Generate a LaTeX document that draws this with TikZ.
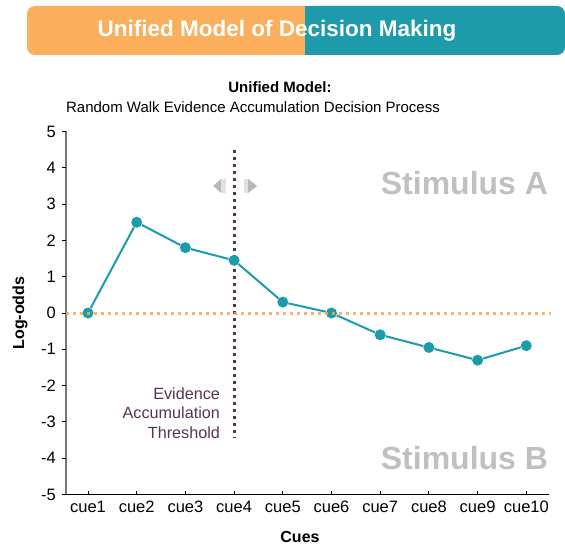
\documentclass[tikz,border=0pt]{standalone}
\usepackage{fontspec}
\setmainfont{Liberation Sans}
\usepackage{tikz}
\usetikzlibrary{positioning}

\definecolor{bannerorange}{HTML}{FBAE5B}
\definecolor{bannerteal}{HTML}{1E9BAA}
\definecolor{walkteal}{HTML}{1C9CA8}
\definecolor{zeroorange}{HTML}{F7A64E}
\definecolor{threshpurple}{HTML}{5A3352}
\definecolor{stimgray}{HTML}{C0C0C0}
\definecolor{axisgray}{HTML}{777777}
\definecolor{arrowgray}{HTML}{B8B8B8}
\definecolor{arrowlight}{HTML}{E2E2E2}

\tikzset{
  dot/.style={circle,fill=walkteal,inner sep=0pt,minimum size=11pt},
  walk/.style={walkteal,line width=2pt},
  zeroline/.style={zeroorange,line width=3pt,dash pattern=on 3pt off 4pt},
  thresh/.style={threshpurple,line width=3pt,dash pattern=on 3pt off 4pt},
  ticktext/.style={font=\fontsize{16.5}{19}\selectfont,inner sep=0pt},
  threshtext/.style={font=\fontsize{16.2}{19.5}\selectfont,text=threshpurple,align=right,inner sep=0pt},
  stimtext/.style={font=\bfseries\fontsize{32}{36}\selectfont,text=stimgray,inner sep=0pt},
  axistitle/.style={font=\bfseries\fontsize{16}{19}\selectfont,inner sep=0pt}
}

\begin{document}
\begin{tikzpicture}[x=1pt,y=1pt]
\useasboundingbox (0,0) rectangle (565,547);
% banner
\fill[bannerorange,rounded corners=8pt] (27,492) rectangle (563,541);
\fill[bannerteal,rounded corners=8pt] (305,492) rectangle (565,541);
\fill[bannerteal] (305,492) rectangle (320,541);
\node[font=\bfseries\fontsize{22.5}{26}\selectfont,text=white] (banner) at (277,516) {Unified Model of Decision Making};
% titles
\node[font=\bfseries\fontsize{15}{18}\selectfont,inner sep=0pt] (subtitle) at (280,460) {Unified Model:};
\node[font=\fontsize{15}{18}\selectfont,inner sep=0pt] (subtitle2) at (253,440) {Random Walk Evidence Accumulation Decision Process};
\node[axistitle,rotate=90] (ylabel) at (20,234) {Log-odds};
\node[axistitle] (xlabel) at (300,10) {Cues};

\begin{scope}[shift={(39.3pt,234pt)},x=48.7pt,y=36.3pt]
% axes
\draw[axisgray,line width=2pt] (0.548,-5) -- (0.548,5);
\draw[black,line width=1.3pt] (0.548,-5) -- (10.46,-5);
\foreach \y [count=\i] in {-5,...,5} {
  \draw[black,line width=1pt] (0.548,\y) -- ++(-4pt,0);
  \node[ticktext,anchor=east] (ytick\i) at ([xshift=-10pt]0.548,\y) {\y};
}
\foreach \i in {1,...,10} {
  \draw[black,line width=1pt] (\i,-5) -- ++(0,4pt);
  \node[ticktext,anchor=base] (xtick\i) at ([yshift=-18pt]\i,-5) {cue\i};
}
% stimulus labels
\node[stimtext,anchor=east] (stimA) at (10.45,3.58) {Stimulus A};
\node[stimtext,anchor=east] (stimB) at (10.45,-3.99) {Stimulus B};
% threshold
\coordinate (thtop) at (4,4.49);
\coordinate (thbot) at (4,-3.42);
\draw[thresh] (thtop) -- (thbot);
\node[threshtext,anchor=east] (thlabel) at ([xshift=-14pt]4,-2.75) {Evidence\\Accumulation\\Threshold};
\fill[arrowgray] ([xshift=-21pt]4,3.5) -- ++(8pt,7pt) -- ++(0,-14pt) -- cycle;
\fill[arrowlight] ([xshift=-13pt,yshift=-7pt]4,3.5) rectangle ++(5pt,14pt);
\fill[arrowlight] ([xshift=10pt,yshift=-7pt]4,3.5) rectangle ++(4pt,14pt);
\fill[arrowgray] ([xshift=23pt]4,3.5) -- ++(-9pt,7pt) -- ++(0,-14pt) -- cycle;
% random walk
\foreach \v [count=\i] in {0,2.5,1.8,1.45,0.3,0,-0.6,-0.95,-1.3,-0.9}
  \node[dot] (c\i) at (\i,\v) {};
\foreach \i [remember=\i as \j (initially 1)] in {2,...,10}
  \draw[walk] (c\j) -- (c\i);
\coordinate (zl) at (0.548,0);
\coordinate (zr) at (10.5,0);
\draw[zeroline,opacity=0.85] (zl) -- (zr);
\end{scope}
\end{tikzpicture}
\end{document}
